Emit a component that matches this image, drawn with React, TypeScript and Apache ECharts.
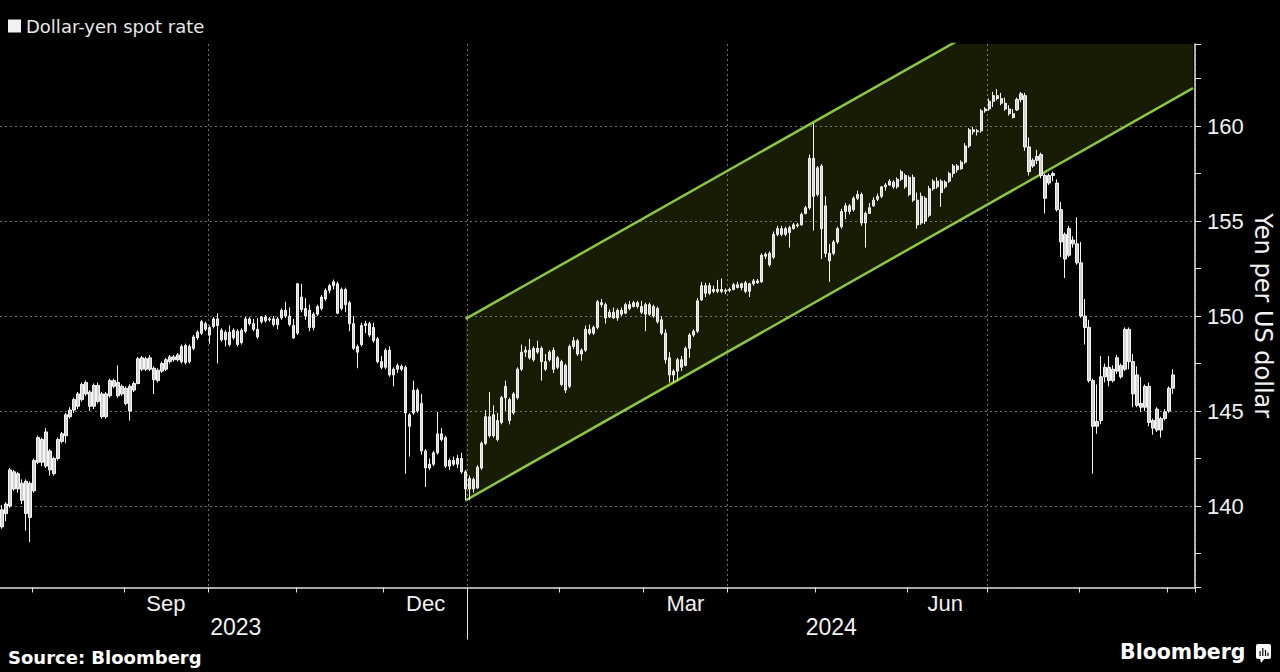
import React, { useEffect, useRef } from 'react';
import * as echarts from 'echarts';

// ---------- texts ----------
const seriesName = 'Dollar-yen spot rate';
const axisTitle = 'Yen per US dollar';
const sourceText = 'Source: Bloomberg';
const brandText = 'Bloomberg';

// ---------- axes ----------
const axisStart = '2023-07-20';
const axisEnd = '2024-09-10';
const monthNames = ['Jan', 'Feb', 'Mar', 'Apr', 'May', 'Jun', 'Jul', 'Aug', 'Sep', 'Oct', 'Nov', 'Dec'];
const labeledMonths = ['Sep', 'Dec', 'Mar', 'Jun'];
const gridMonths = ['Jan', 'Apr', 'Jul', 'Oct'];
const yTicks = [140, 145, 150, 155, 160];
const yMin = 135.71;
const yMax = 164.32;

// ---------- daily candles [open, close, low, high] ----------
const jul2023 = [
  [139.8, 138.9, 138.8, 140.05], [139.6, 140.1, 139.2, 140.2], [140.0, 141.9, 139.9, 142.0], [141.8, 140.9, 140.8, 141.9],
  [140.9, 141.7, 140.7, 141.8], [141.2, 140.3, 140.1, 141.4], [141.3, 139.6, 138.7, 141.4], [139.4, 141.2, 138.1, 141.3],
];
const aug2023 = [
  [140.8, 142.4, 140.7, 142.5], [142.3, 143.6, 142.2, 143.7], [143.5, 142.3, 142.1, 143.6], [142.1, 143.9, 142.0, 144.1],
  [142.9, 141.9, 141.6, 143.0], [141.7, 142.5, 141.6, 142.6], [142.5, 143.5, 142.4, 143.6], [143.4, 143.8, 143.3, 143.9],
  [143.7, 144.8, 143.3, 144.9], [144.7, 145.05, 144.6, 145.2], [145.05, 145.6, 144.9, 145.7], [145.25, 145.9, 145.1, 146.0],
  [145.6, 146.4, 145.5, 146.5], [146.5, 145.9, 145.8, 146.6], [146.0, 145.25, 145.0, 146.1], [145.25, 146.35, 145.1, 146.45],
  [146.35, 145.5, 145.4, 146.5], [145.9, 144.7, 144.6, 146.0], [144.7, 145.9, 144.6, 146.0], [145.8, 146.6, 145.7, 146.7],
  [146.6, 146.3, 146.2, 146.7], [146.5, 145.8, 145.7, 147.4], [145.9, 146.3, 145.8, 146.4],
];
const sep2023 = [
  [146.2, 145.4, 145.3, 146.3], [145.0, 146.3, 144.5, 146.4], [146.1, 146.45, 146.0, 146.55], [146.45, 147.75, 146.4, 147.85],
  [147.8, 147.2, 147.1, 147.9], [147.2, 147.75, 147.1, 147.85], [147.8, 147.2, 147.1, 147.95], [147.25, 146.65, 145.9, 147.35],
  [146.6, 147.15, 146.5, 147.25], [147.1, 147.5, 147.0, 147.6], [147.2, 147.7, 147.1, 147.8], [147.6, 147.85, 147.5, 147.95],
  [147.85, 147.7, 147.6, 147.95], [147.7, 147.95, 147.6, 148.05], [147.6, 148.4, 147.5, 148.5], [148.45, 147.55, 147.45, 148.55],
  [147.6, 148.4, 147.5, 148.5], [148.3, 148.9, 148.2, 149.0], [148.85, 149.15, 148.75, 149.25], [149.1, 149.7, 149.0, 149.8],
  [149.6, 149.3, 149.2, 149.7],
];
const oct2023 = [
  [149.4, 149.0, 148.55, 149.5], [149.45, 149.85, 149.35, 149.95], [149.85, 149.5, 147.5, 150.15], [149.25, 148.75, 148.65, 149.35],
  [148.75, 149.15, 148.4, 149.25], [149.15, 148.5, 148.4, 149.5], [148.85, 149.25, 148.75, 149.35], [149.2, 148.5, 148.4, 149.3],
  [148.6, 149.25, 148.5, 149.35], [149.2, 149.85, 149.1, 149.95], [149.85, 149.6, 149.5, 149.95], [149.6, 149.3, 149.2, 149.85],
  [149.3, 148.9, 148.8, 149.9], [149.7, 149.95, 149.6, 150.0], [149.95, 149.75, 149.65, 150.05], [149.8, 149.85, 149.7, 149.95],
  [149.85, 149.55, 149.45, 150.0], [149.55, 149.85, 149.3, 149.95], [149.9, 150.3, 149.8, 150.4], [150.3, 150.0, 149.9, 150.75],
  [150.0, 149.55, 149.45, 150.45], [149.5, 148.85, 148.8, 149.85],
];
const nov2023 = [
  [149.1, 151.7, 149.0, 151.75], [151.0, 150.35, 150.2, 151.7], [150.4, 150.0, 149.8, 150.95], [150.3, 149.4, 149.2, 150.6],
  [149.4, 150.1, 149.25, 150.2], [150.1, 150.5, 150.0, 150.6], [150.4, 151.0, 150.3, 151.1], [150.9, 151.35, 150.8, 151.45],
  [151.35, 151.6, 151.2, 151.7], [151.6, 151.8, 151.4, 151.92], [151.7, 150.15, 150.1, 151.8], [150.4, 151.4, 150.3, 151.5],
  [151.4, 150.6, 150.2, 151.5], [150.7, 149.6, 149.2, 150.8], [149.6, 148.3, 148.2, 150.0], [148.4, 148.1, 147.25, 148.5],
  [148.5, 149.5, 148.4, 149.65], [149.5, 149.6, 149.1, 149.75], [149.6, 149.0, 148.9, 149.7], [149.4, 148.7, 148.6, 149.65],
  [148.8, 147.6, 147.5, 148.9], [147.6, 147.3, 147.2, 147.9],
];
const dec2023 = [
  [147.3, 148.2, 147.2, 148.3], [148.2, 146.9, 146.8, 148.4], [146.9, 147.2, 146.3, 147.3], [147.2, 147.4, 147.0, 147.5],
  [147.35, 147.2, 147.1, 147.45], [147.3, 144.9, 141.7, 147.4], [144.2, 144.8, 142.6, 144.9], [144.9, 146.1, 144.8, 146.6],
  [146.1, 145.0, 144.9, 146.2], [145.4, 142.9, 142.7, 145.9], [142.9, 142.0, 141.0, 143.0], [142.0, 142.2, 141.9, 142.5],
  [142.2, 142.8, 142.1, 142.9], [142.8, 143.8, 142.7, 144.95], [143.8, 143.5, 143.4, 144.1], [143.6, 142.1, 142.0, 143.7],
  [142.1, 142.4, 141.9, 142.5], [142.4, 142.2, 142.1, 142.6], [142.2, 142.5, 142.0, 142.7], [142.5, 141.8, 141.7, 142.8],
  [141.8, 140.9, 140.3, 141.9],
];
const jan2024 = [
  [140.9, 141.45, 140.3, 141.6], [141.4, 140.9, 140.7, 141.5], [140.95, 142.05, 140.9, 142.15], [142.0, 143.3, 141.9, 143.4],
  [143.3, 144.7, 143.2, 145.05], [144.7, 143.7, 143.6, 146.0], [143.7, 144.8, 143.6, 145.3], [144.5, 143.5, 143.4, 144.9],
  [144.4, 145.7, 144.3, 145.8], [145.7, 146.3, 145.0, 146.6], [145.6, 144.5, 144.3, 145.7], [144.9, 145.9, 144.8, 146.0],
  [145.7, 147.2, 145.6, 147.3], [147.2, 148.1, 147.1, 148.5], [148.1, 148.2, 147.85, 148.4], [148.2, 147.8, 147.7, 148.8],
  [147.7, 148.3, 147.6, 148.4], [148.3, 148.1, 148.0, 148.7], [148.3, 147.6, 146.6, 148.4], [147.6, 147.2, 147.1, 148.0],
  [147.7, 148.1, 147.6, 148.2], [148.2, 147.2, 147.0, 148.35], [147.3, 147.8, 147.2, 147.9],
];
const feb2024 = [
  [147.6, 146.4, 146.3, 147.7], [147.4, 146.1, 145.95, 147.5], [146.3, 148.4, 146.2, 148.5], [148.4, 148.7, 148.25, 148.9],
  [148.7, 148.0, 147.9, 148.8], [148.0, 148.2, 147.65, 148.3], [148.2, 149.3, 148.1, 149.5], [149.3, 149.1, 149.0, 149.55],
  [149.1, 149.4, 149.0, 149.5], [149.4, 150.75, 149.3, 150.85], [150.7, 150.6, 150.45, 150.9], [150.6, 149.9, 149.6, 150.7],
  [149.95, 150.2, 149.9, 150.35], [150.2, 149.9, 149.85, 150.45], [149.9, 150.3, 149.75, 150.4], [150.3, 150.1, 150.0, 150.45],
  [150.15, 150.6, 150.1, 150.7], [150.6, 150.4, 150.3, 150.8], [150.5, 150.7, 150.45, 150.8], [150.7, 150.5, 150.4, 150.8],
  [150.5, 150.2, 150.1, 150.8],
];
const mar2024 = [
  [150.6, 150.1, 149.2, 150.7], [150.1, 150.6, 150.0, 150.7], [150.5, 150.0, 149.9, 150.6], [150.4, 149.7, 149.6, 150.5],
  [149.8, 149.1, 149.0, 150.0], [149.1, 147.7, 147.5, 149.3], [147.8, 146.9, 146.5, 148.1], [146.9, 147.1, 146.5, 147.2],
  [147.1, 147.7, 146.6, 147.8], [147.7, 147.3, 147.1, 147.9], [147.4, 148.3, 147.35, 148.4], [148.3, 149.0, 147.8, 149.1],
  [149.0, 149.2, 148.9, 149.3], [149.2, 150.8, 149.1, 150.95], [150.85, 151.6, 150.8, 151.8], [151.6, 151.2, 151.0, 151.75],
  [151.2, 151.6, 151.1, 151.75], [151.4, 151.3, 151.2, 151.6], [151.3, 151.4, 151.2, 151.9], [151.4, 151.3, 151.2, 151.98],
  [151.3, 151.35, 151.15, 151.45],
];
const apr2024 = [
  [151.35, 151.4, 151.25, 151.5], [151.4, 151.65, 151.35, 151.75], [151.65, 151.5, 151.45, 151.8], [151.5, 151.7, 151.35, 151.75],
  [151.75, 151.3, 151.2, 151.85], [151.3, 151.7, 151.0, 151.75], [151.7, 151.85, 151.6, 151.95], [151.85, 151.75, 151.7, 151.95],
  [151.8, 153.2, 151.75, 153.3], [153.15, 153.25, 153.0, 153.35], [153.3, 152.7, 152.6, 153.4], [153.1, 154.3, 153.0, 154.45],
  [154.3, 154.6, 154.2, 154.75], [154.6, 154.3, 154.2, 154.75], [154.3, 154.6, 154.2, 154.7], [154.65, 154.4, 153.6, 154.75],
  [154.6, 154.8, 154.55, 154.9], [154.8, 154.75, 154.65, 154.9], [154.8, 155.35, 154.75, 155.45], [155.4, 155.7, 155.35, 155.8],
  [155.7, 158.3, 155.6, 158.5], [158.3, 156.3, 154.5, 160.15],
];
const may2024 = [
  [156.4, 157.8, 156.3, 157.9], [157.9, 154.6, 153.0, 158.0], [155.8, 153.3, 153.1, 156.3], [153.3, 152.9, 151.8, 153.8],
  [153.3, 153.9, 153.2, 154.0], [153.9, 154.6, 153.8, 154.7], [154.7, 155.5, 154.6, 155.65], [155.5, 155.8, 155.1, 155.95],
  [155.8, 155.5, 155.35, 155.9], [155.6, 156.2, 155.5, 156.3], [156.2, 156.4, 156.1, 156.6], [156.4, 154.9, 154.75, 156.5],
  [154.9, 155.4, 153.6, 155.5], [155.4, 155.7, 155.4, 155.95], [155.8, 156.1, 155.75, 156.25], [156.15, 156.3, 156.05, 156.45],
  [156.3, 156.8, 156.2, 156.85], [156.8, 156.9, 156.6, 157.0], [156.9, 157.1, 156.85, 157.2], [157.05, 156.8, 156.7, 157.15],
  [156.8, 157.2, 156.7, 157.3], [157.2, 157.6, 157.1, 157.7], [157.4, 156.8, 156.7, 157.5],
];
const jun2024 = [
  [157.3, 156.4, 156.3, 157.4], [157.3, 156.1, 156.0, 157.45], [156.1, 154.8, 154.6, 156.5], [154.9, 156.3, 154.8, 156.5],
  [156.2, 155.0, 154.85, 156.3], [155.3, 156.7, 155.2, 156.85], [156.7, 157.1, 156.6, 157.2], [157.1, 156.8, 156.7, 157.3],
  [156.5, 157.1, 155.75, 157.2], [157.05, 156.8, 156.7, 157.15], [157.1, 157.5, 157.0, 157.6], [157.5, 157.9, 157.3, 158.0],
  [157.9, 157.7, 157.55, 158.0], [157.75, 158.1, 157.7, 158.2], [158.1, 158.95, 158.0, 159.1], [158.95, 159.8, 158.85, 159.9],
  [159.8, 159.7, 159.55, 159.95], [159.7, 159.75, 159.5, 159.85], [159.75, 160.8, 159.65, 160.9], [160.8, 160.9, 160.7, 161.0],
];
const jul2024 = [
  [160.9, 161.3, 160.8, 161.45], [161.3, 161.6, 161.0, 161.8], [161.6, 161.45, 161.35, 161.95], [161.45, 161.2, 161.1, 161.75],
  [161.2, 160.9, 160.8, 161.5], [160.9, 160.65, 160.55, 161.1], [160.65, 160.45, 160.4, 160.9], [160.85, 161.4, 160.8, 161.5],
  [161.4, 161.7, 161.25, 161.8], [161.6, 158.9, 158.7, 161.75], [158.9, 157.6, 157.4, 159.4], [157.9, 158.2, 157.8, 158.3],
  [158.2, 158.4, 158.0, 158.75], [158.5, 157.4, 157.25, 158.6], [157.4, 156.2, 155.4, 157.5], [157.0, 157.4, 156.9, 157.5],
  [157.4, 157.5, 157.1, 157.6], [157.0, 155.6, 155.5, 157.2], [155.6, 153.9, 153.1, 156.0], [154.3, 153.0, 152.0, 154.4],
  [153.2, 154.6, 153.1, 154.75], [154.0, 153.8, 153.6, 154.2], [153.8, 152.8, 152.7, 155.2],
];
const aug2024 = [
  [152.8, 150.0, 149.9, 153.9], [150.0, 149.4, 148.5, 150.9], [149.4, 146.6, 146.5, 149.8], [146.6, 144.2, 141.7, 146.7],
  [144.2, 144.45, 143.8, 146.4], [144.5, 146.8, 144.3, 147.9], [146.8, 147.3, 146.5, 147.5], [147.3, 146.6, 146.3, 147.9],
  [146.6, 147.2, 146.5, 147.4], [147.1, 147.8, 146.95, 147.95], [147.4, 146.8, 146.7, 147.5], [147.2, 149.3, 147.1, 149.4],
  [149.3, 147.6, 147.2, 149.4], [147.6, 145.9, 145.2, 148.0], [146.9, 145.3, 145.2, 147.35], [145.4, 145.2, 144.95, 146.8],
  [145.2, 146.3, 145.0, 146.4], [146.3, 144.4, 144.2, 146.5], [144.5, 144.1, 143.75, 144.6], [145.1, 144.0, 143.9, 145.2],
  [144.0, 144.6, 143.6, 144.7], [144.6, 144.95, 144.5, 145.1],
];
const sep2024 = [
  [145.0, 146.2, 144.9, 146.3], [146.2, 146.9, 145.9, 147.2],
];

// ---------- trend channel ----------
const channelDates = ['2023-12-29', '2024-09-10'];
const channelLower = [140.3, 162.0];
const channelUpper = [149.85, 171.5];

// ---------- styles ----------
const GREEN = '#8dc641';
const CHANNEL_FILL = 'rgba(160,190,30,0.15)';
const GRID_LINE = '#707070';
const AXIS = '#e2e2e2';
const TEXT = '#f2f2f2';
const NUMFONT = '"Liberation Sans", Arial, sans-serif';
const WIDE = '"DejaVu Sans", Verdana, sans-serif';

function weekdays(a: string, b: string): string[] {
  const out: string[] = [];
  const d = new Date(a + 'T00:00:00Z');
  const end = new Date(b + 'T00:00:00Z');
  while (d <= end) {
    const w = d.getUTCDay();
    if (w !== 0 && w !== 6) out.push(d.toISOString().slice(0, 10));
    d.setUTCDate(d.getUTCDate() + 1);
  }
  return out;
}

export default function App() {
  const ref = useRef<HTMLDivElement | null>(null);

  useEffect(() => {
    if (!ref.current) return;
    const chart = echarts.init(ref.current, null, { renderer: 'svg' });

    const dates = weekdays(axisStart, axisEnd);
    const candles = [
      ...jul2023, ...aug2023, ...sep2023, ...oct2023, ...nov2023, ...dec2023,
      ...jan2024, ...feb2024, ...mar2024, ...apr2024, ...may2024, ...jun2024,
      ...jul2024, ...aug2024, ...sep2024,
    ];

    const monthOf = (s: string) => monthNames[Number(s.slice(5, 7)) - 1];
    // month boundaries
    const monthStarts: number[] = [];
    for (let i = 1; i < dates.length; i++) {
      if (dates[i].slice(0, 7) !== dates[i - 1].slice(0, 7)) monthStarts.push(i);
    }
    const tickSet = new Set(monthStarts);
    const gridSet = new Set(monthStarts.filter((i) => gridMonths.includes(monthOf(dates[i]))));
    const labelSet = new Set<number>();
    for (let k = 0; k < monthStarts.length - 1; k++) {
      const a = monthStarts[k];
      const b = monthStarts[k + 1] - 1;
      if (labeledMonths.includes(monthOf(dates[a]))) labelSet.add(Math.floor((a + b) / 2));
    }
    // year axis: one entry per category boundary (so a tick sits exactly on a boundary)
    const boundaries = [...dates, 'end'];
    const yearStarts: number[] = [];
    for (let i = 1; i < dates.length; i++) {
      if (dates[i].slice(0, 4) !== dates[i - 1].slice(0, 4)) yearStarts.push(i);
    }
    const yearSepSet = new Set(yearStarts);
    const bounds = [0, ...yearStarts, dates.length];
    const yearLabelSet = new Set<number>();
    for (let k = 0; k < bounds.length - 1; k++) {
      yearLabelSet.add(Math.round((bounds[k] + bounds[k + 1]) / 2));
    }

    const option: any = {
      animation: false,
      backgroundColor: '#000',
      legend: {
        show: true,
        left: 8,
        top: 17,
        padding: 0,
        itemWidth: 13,
        itemHeight: 13,
        icon: 'rect',
        selectedMode: false,
        data: [{ name: seriesName, itemStyle: { color: '#f2f2f2', borderWidth: 0 } }],
        textStyle: { color: '#e8e8e8', fontSize: 18, fontFamily: WIDE },
      },
      grid: { left: 0, right: 85, top: 44, bottom: 84.5, containLabel: false, outerBoundsMode: 'none' },
      xAxis: [
        {
          type: 'category',
          data: dates,
          boundaryGap: true,
          axisLine: { show: true, lineStyle: { color: AXIS, width: 1.5 } },
          axisTick: { show: true, interval: (i: number) => tickSet.has(i), length: 5, lineStyle: { color: AXIS } },
          axisLabel: {
            show: true,
            interval: (i: number) => labelSet.has(i),
            formatter: (v: string) => monthOf(v),
            color: TEXT,
            fontSize: 22,
            fontFamily: NUMFONT,
            margin: 5,
          },
          splitLine: {
            show: true,
            interval: (i: number) => gridSet.has(i),
            lineStyle: { color: GRID_LINE, type: [2, 3], width: 1 },
          },
        },
        {
          type: 'category',
          data: boundaries,
          boundaryGap: false,
          position: 'bottom',
          offset: 4,
          axisLine: { show: false },
          axisTick: { show: true, interval: (i: number) => yearSepSet.has(i), length: 48, lineStyle: { color: AXIS } },
          axisLabel: {
            show: true,
            interval: (i: number) => yearLabelSet.has(i),
            formatter: (v: string) => v.slice(0, 4),
            color: TEXT,
            fontSize: 23,
            fontFamily: NUMFONT,
            margin: 24,
          },
          splitLine: { show: false },
        },
      ],
      yAxis: {
        type: 'value',
        position: 'right',
        min: yMin,
        max: yMax,
        minInterval: 5,
        maxInterval: 5,
        axisLine: { show: true, lineStyle: { color: AXIS, width: 1.5 } },
        axisTick: { show: true, length: 6, lineStyle: { color: AXIS } },
        minorTick: { show: true, splitNumber: 2, length: 6, lineStyle: { color: AXIS } },
        axisLabel: {
          margin: 12,
          color: TEXT,
          fontSize: 22,
          fontFamily: NUMFONT,
          showMinLabel: false,
          showMaxLabel: false,
          formatter: (v: number) => (yTicks.includes(v) ? String(v) : ''),
        },
        splitLine: { show: true, showMinLine: false, showMaxLine: false, lineStyle: { color: GRID_LINE, type: [2, 3], width: 1 } },
        minorSplitLine: { show: false },
        name: axisTitle,
        nameLocation: 'middle',
        nameGap: 56,
        nameMoveOverlap: false,
        nameRotate: -90,
        nameTextStyle: { color: TEXT, fontSize: 24, fontFamily: WIDE },
      },
      series: [
        {
          name: 'channelBase',
          type: 'line',
          stack: 'channel',
          data: channelDates.map((d, i) => [d, channelLower[i]]),
          symbol: 'none',
          lineStyle: { width: 0, opacity: 0 },
          silent: true,
          z: 1,
        },
        {
          name: 'channelBand',
          type: 'line',
          stack: 'channel',
          data: channelDates.map((d, i) => [d, channelUpper[i] - channelLower[i]]),
          symbol: 'none',
          lineStyle: { width: 0, opacity: 0 },
          areaStyle: { color: CHANNEL_FILL, opacity: 1 },
          silent: true,
          z: 1,
        },
        {
          name: 'channelUpper',
          type: 'line',
          data: channelDates.map((d, i) => [d, channelUpper[i]]),
          symbol: 'none',
          lineStyle: { color: GREEN, width: 2.5 },
          silent: true,
          z: 2,
        },
        {
          name: 'channelLower',
          type: 'line',
          data: channelDates.map((d, i) => [d, channelLower[i]]),
          symbol: 'none',
          lineStyle: { color: GREEN, width: 2.5 },
          silent: true,
          z: 2,
        },
        {
          name: seriesName,
          type: 'candlestick',
          data: candles,
          barWidth: 2.8,
          itemStyle: {
            color: '#d2d2d2',
            color0: '#d2d2d2',
            borderColor: '#f5f5f5',
            borderColor0: '#f5f5f5',
            borderWidth: 1,
          },
          z: 5,
        },
      ],
      graphic: [
        {
          type: 'text',
          left: 8,
          top: 648,
          style: { text: sourceText, fill: '#ffffff', fontSize: 18, fontWeight: 'bold', fontFamily: WIDE },
        },
        {
          type: 'text',
          left: 1120,
          top: 641,
          style: { text: brandText, fill: '#ffffff', fontSize: 20.5, fontWeight: 'bold', fontFamily: WIDE },
        },
        {
          type: 'group',
          left: 1256,
          top: 644,
          children: [
            { type: 'rect', shape: { x: 0, y: 0, width: 15, height: 15, r: 2 }, style: { fill: '#ffffff' } },
            { type: 'polygon', shape: { points: [[4, 14], [9, 14], [5, 19]] }, style: { fill: '#ffffff' } },
            { type: 'rect', shape: { x: 3.5, y: 7, width: 1.2, height: 5 }, style: { fill: '#000' } },
            { type: 'rect', shape: { x: 6.2, y: 4, width: 1.2, height: 8 }, style: { fill: '#000' } },
            { type: 'rect', shape: { x: 8.9, y: 6, width: 1.2, height: 6 }, style: { fill: '#000' } },
            { type: 'rect', shape: { x: 11.4, y: 8.5, width: 1.2, height: 3.5 }, style: { fill: '#000' } },
          ],
        },
      ],
    };

    chart.setOption(option);
    return () => chart.dispose();
  }, []);

  return (
    <div
      ref={ref}
      style={{ position: 'fixed', left: 0, top: 0, width: 1280, height: 672, background: '#000' }}
    />
  );
}
